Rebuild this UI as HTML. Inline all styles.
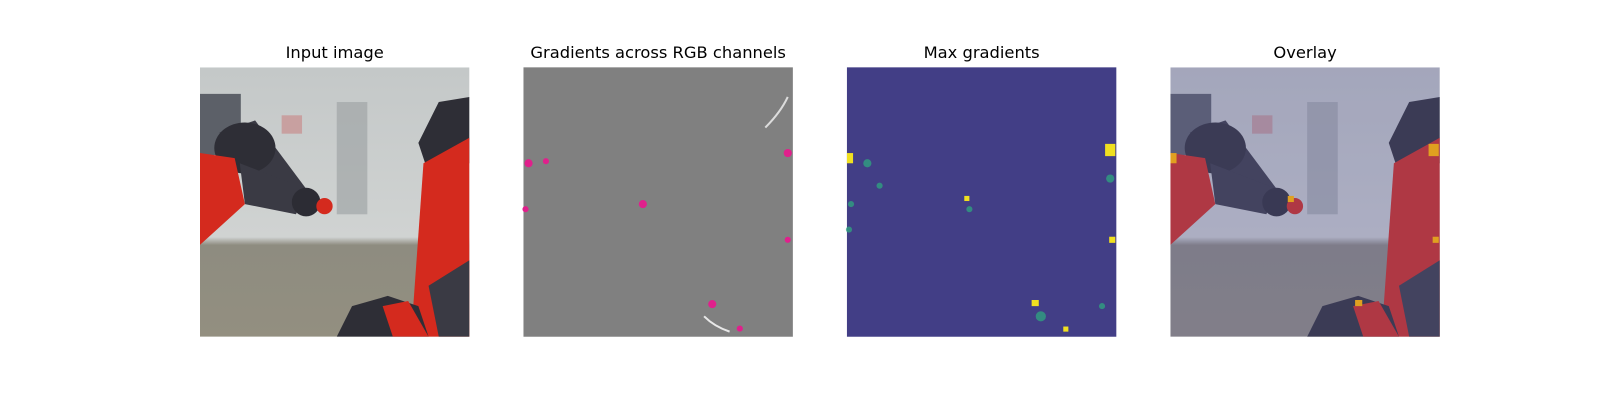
<!DOCTYPE html>
<html><head><meta charset="utf-8"><style>
body{margin:0;background:#fff;width:1600px;height:400px;overflow:hidden;font-family:"DejaVu Sans","Liberation Sans",sans-serif;}
svg{display:block}
</style></head><body>
<svg width="1600" height="400" viewBox="0 0 1568 392" preserveAspectRatio="none">
<defs>
<clipPath id="c1"><rect x="196" y="66" width="264" height="264"/></clipPath>
<clipPath id="c4"><rect x="1147" y="66" width="264" height="264"/></clipPath>
<linearGradient id="bg" x1="0" y1="0" x2="0" y2="1">
<stop offset="0" stop-color="#c4c8c8"/><stop offset="0.63" stop-color="#d0d3d2"/><stop offset="0.66" stop-color="#8e8c80"/><stop offset="1" stop-color="#938f80"/></linearGradient>
<g id="scene">
<rect x="196" y="66" width="264" height="264" fill="url(#bg)"/>
<rect x="196" y="92" width="40" height="60" fill="#5c6068"/>
<rect x="276" y="113" width="20" height="18" fill="#c8a0a0"/>
<rect x="330" y="100" width="30" height="110" fill="#9a9ea0" opacity="0.6"/>
<path d="M215 130 L250 118 L300 185 L290 210 Z" fill="#3a3a44"/>
<ellipse cx="240" cy="145" rx="30" ry="25" fill="#2e2e36"/>
<path d="M196 150 L230 155 L240 200 L196 240 Z" fill="#d42a1e"/>
<path d="M235 160 L300 185 L290 210 L240 200 Z" fill="#3a3a44"/>
<ellipse cx="300" cy="198" rx="14" ry="14" fill="#2c2c34"/>
<circle cx="318" cy="202" r="8" fill="#d42a1e"/>
<path d="M430 100 L460 95 L460 160 L420 170 L410 140 Z" fill="#2e2e36"/>
<path d="M415 160 L460 135 L460 330 L420 330 L405 300 Z" fill="#d42a1e"/>
<path d="M420 280 L460 255 L460 330 L430 330 Z" fill="#3a3a44"/>
<path d="M330 330 L345 300 L380 290 L410 300 L420 330 Z" fill="#2e2e36"/>
<path d="M375 300 L400 295 L420 330 L385 330 Z" fill="#d42a1e"/>
</g>
</defs>

<g>
<text x="328" y="57" text-anchor="middle" font-size="16" fill="#000">Input image</text>
<g clip-path="url(#c1)"><use href="#scene"/></g>
</g>

<g>
<text x="645" y="57" text-anchor="middle" font-size="16" fill="#000">Gradients across RGB channels</text>
<rect x="513" y="66" width="264" height="264" fill="#808080"/>
<g fill="#e0208c">
<circle cx="630" cy="200" r="4"/><circle cx="518" cy="160" r="4"/><circle cx="515" cy="205" r="3"/><circle cx="772" cy="150" r="4"/><circle cx="698" cy="298" r="4"/><circle cx="725" cy="322" r="3"/><circle cx="535" cy="158" r="3"/><circle cx="772" cy="235" r="3"/>
</g>
<path d="M750 125 Q765 110 772 95" stroke="#dcdcdc" stroke-width="2" fill="none"/>
<path d="M690 310 Q700 320 715 325" stroke="#e8e8e8" stroke-width="2" fill="none"/>
</g>

<g>
<text x="962" y="57" text-anchor="middle" font-size="16" fill="#000">Max gradients</text>
<rect x="830" y="66" width="264" height="264" fill="#423e86"/>
<g fill="#f0e020">
<rect x="830" y="150" width="6" height="10"/><rect x="1083" y="141" width="10" height="12"/><rect x="945" y="192" width="5" height="5"/><rect x="1011" y="294" width="7" height="6"/><rect x="1087" y="232" width="6" height="6"/><rect x="1042" y="320" width="5" height="5"/>
</g>
<g fill="#30a080" opacity="0.8">
<circle cx="850" cy="160" r="4"/><circle cx="834" cy="200" r="3"/><circle cx="1088" cy="175" r="4"/><circle cx="1020" cy="310" r="5"/><circle cx="1080" cy="300" r="3"/><circle cx="950" cy="205" r="3"/><circle cx="862" cy="182" r="3"/><circle cx="832" cy="225" r="3"/>
</g>
</g>

<g>
<text x="1279" y="57" text-anchor="middle" font-size="16" fill="#000">Overlay</text>
<g clip-path="url(#c4)">
<g transform="translate(951,0)"><use href="#scene"/></g>
<rect x="1147" y="66" width="264" height="264" fill="#5a5aa0" opacity="0.3"/>
<g fill="#e0a020">
<rect x="1147" y="150" width="6" height="10"/><rect x="1400" y="141" width="10" height="12"/><rect x="1262" y="192" width="6" height="6"/><rect x="1328" y="294" width="7" height="6"/><rect x="1404" y="232" width="6" height="6"/>
</g>
</g>
</g>
</svg>
</body></html>
